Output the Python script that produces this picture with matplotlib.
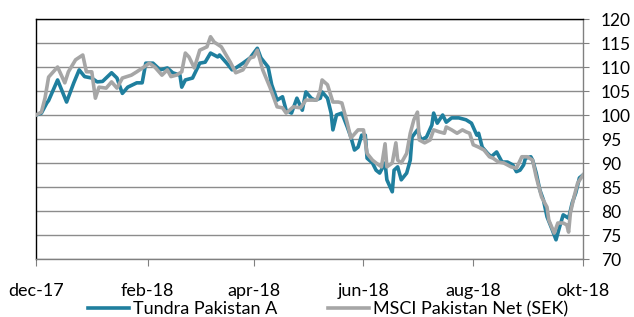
import pandas as pd
import matplotlib
matplotlib.use("Agg")
import matplotlib.pyplot as plt

plt.rcParams["font.family"] = ["Lato", "DejaVu Sans"]

# ---- Data (index, start = 100) ----
tundra_dates = [
    "2017-12-01", "2017-12-04", "2017-12-07", "2017-12-08", "2017-12-13", "2017-12-18",
    "2017-12-22", "2017-12-25", "2017-12-28", "2018-01-01", "2018-01-04", "2018-01-07",
    "2018-01-12", "2018-01-15", "2018-01-18", "2018-01-21", "2018-01-26", "2018-01-29",
    "2018-01-31", "2018-02-04", "2018-02-08", "2018-02-12", "2018-02-15", "2018-02-19",
    "2018-02-20", "2018-02-22", "2018-02-26", "2018-03-02", "2018-03-05", "2018-03-08",
    "2018-03-12", "2018-03-13", "2018-03-17", "2018-03-20", "2018-03-22", "2018-03-26",
    "2018-03-30", "2018-04-03", "2018-04-05", "2018-04-09", "2018-04-11", "2018-04-14",
    "2018-04-17", "2018-04-19", "2018-04-22", "2018-04-25", "2018-04-28", "2018-04-30",
    "2018-05-03", "2018-05-05", "2018-05-08", "2018-05-09", "2018-05-12", "2018-05-14",
    "2018-05-15", "2018-05-17", "2018-05-20", "2018-05-23", "2018-05-25", "2018-05-27",
    "2018-05-29", "2018-05-31", "2018-06-02", "2018-06-03", "2018-06-06", "2018-06-08",
    "2018-06-10", "2018-06-13", "2018-06-14", "2018-06-17", "2018-06-18", "2018-06-20",
    "2018-06-22", "2018-06-25", "2018-06-27", "2018-06-28", "2018-07-01", "2018-07-03",
    "2018-07-06", "2018-07-09", "2018-07-10", "2018-07-12", "2018-07-15", "2018-07-17",
    "2018-07-20", "2018-07-24", "2018-07-28", "2018-07-31", "2018-08-03", "2018-08-04",
    "2018-08-06", "2018-08-09", "2018-08-11", "2018-08-14", "2018-08-17", "2018-08-20",
    "2018-08-23", "2018-08-25", "2018-08-27", "2018-08-29", "2018-08-30", "2018-09-02",
    "2018-09-03", "2018-09-05", "2018-09-07", "2018-09-09", "2018-09-11", "2018-09-14",
    "2018-09-16", "2018-09-18", "2018-09-20", "2018-09-23", "2018-09-25", "2018-09-27",
    "2018-09-29", "2018-10-01",
]
tundra_values = [
    100.0, 100.4, 102.5, 103.0, 107.3, 102.7,
    106.7, 109.4, 108.0, 107.7, 106.9, 107.0,
    108.8, 107.7, 104.5, 105.8, 106.7, 106.7,
    110.8, 110.8, 109.4, 109.8, 108.8, 108.3,
    105.8, 107.3, 107.7, 110.8, 111.0, 112.9,
    112.1, 112.5, 110.8, 109.4, 109.8, 110.8,
    111.9, 113.9, 111.9, 110.0, 106.3, 103.1,
    103.8, 101.0, 100.4, 103.5, 101.0, 104.8,
    103.5, 103.1, 103.5, 104.8, 103.5, 100.4,
    96.9, 100.0, 100.4, 97.5, 95.4, 92.7,
    93.3, 95.8, 95.8, 91.0, 90.0, 88.5,
    87.9, 90.0, 86.5, 84.0, 88.5, 89.2,
    86.5, 87.9, 90.6, 95.4, 96.9, 94.8,
    95.4, 97.9, 100.4, 98.3, 100.0, 98.5,
    99.4, 99.4, 99.0, 98.3, 95.8, 96.2,
    93.3, 92.0, 91.3, 92.3, 90.2, 90.2,
    89.6, 88.2, 88.5, 89.6, 91.0, 91.3,
    90.6, 87.9, 84.4, 82.3, 78.8, 76.0,
    74.0, 76.7, 79.2, 78.5, 81.7, 83.8,
    86.9, 87.5,
]

msci_dates = [
    "2017-12-01", "2017-12-04", "2017-12-06", "2017-12-08", "2017-12-13", "2017-12-17",
    "2017-12-19", "2017-12-23", "2017-12-27", "2017-12-29", "2018-01-01", "2018-01-03",
    "2018-01-05", "2018-01-09", "2018-01-12", "2018-01-15", "2018-01-18", "2018-01-23",
    "2018-01-26", "2018-01-30", "2018-02-02", "2018-02-05", "2018-02-09", "2018-02-12",
    "2018-02-14", "2018-02-17", "2018-02-20", "2018-02-22", "2018-02-24", "2018-02-27",
    "2018-03-02", "2018-03-06", "2018-03-08", "2018-03-10", "2018-03-14", "2018-03-19",
    "2018-03-22", "2018-03-26", "2018-03-30", "2018-04-01", "2018-04-03", "2018-04-06",
    "2018-04-10", "2018-04-14", "2018-04-17", "2018-04-19", "2018-04-23", "2018-04-27",
    "2018-04-30", "2018-05-03", "2018-05-06", "2018-05-08", "2018-05-09", "2018-05-12",
    "2018-05-15", "2018-05-18", "2018-05-20", "2018-05-23", "2018-05-25", "2018-05-29",
    "2018-06-01", "2018-06-03", "2018-06-06", "2018-06-08", "2018-06-11", "2018-06-13",
    "2018-06-14", "2018-06-17", "2018-06-19", "2018-06-20", "2018-06-22", "2018-06-25",
    "2018-06-27", "2018-06-29", "2018-07-01", "2018-07-02", "2018-07-05", "2018-07-08",
    "2018-07-10", "2018-07-13", "2018-07-16", "2018-07-17", "2018-07-20", "2018-07-23",
    "2018-07-26", "2018-07-28", "2018-07-30", "2018-08-01", "2018-08-04", "2018-08-07",
    "2018-08-10", "2018-08-12", "2018-08-15", "2018-08-18", "2018-08-22", "2018-08-25",
    "2018-08-28", "2018-08-31", "2018-09-03", "2018-09-05", "2018-09-08", "2018-09-11",
    "2018-09-12", "2018-09-15", "2018-09-17", "2018-09-20", "2018-09-22", "2018-09-23",
    "2018-09-24", "2018-09-26", "2018-09-28", "2018-10-01",
]
msci_values = [
    100.0, 100.6, 103.5, 107.9, 110.0, 106.7,
    109.0, 111.5, 112.5, 109.0, 109.0, 103.5,
    105.8, 105.6, 106.9, 105.6, 107.7, 108.3,
    109.0, 110.0, 110.8, 110.0, 108.3, 109.4,
    108.0, 108.3, 109.0, 112.9, 112.1, 109.8,
    113.5, 114.2, 116.3, 115.2, 114.2, 111.0,
    108.8, 109.4, 111.9, 112.1, 113.5, 109.4,
    105.8, 101.7, 101.5, 100.4, 101.7, 101.5,
    103.1, 103.1, 103.1, 105.2, 107.3, 106.3,
    102.7, 102.7, 102.5, 98.3, 95.2, 96.9,
    96.9, 92.0, 90.6, 90.0, 89.2, 94.0,
    89.2, 90.0, 94.2, 90.6, 90.0, 92.0,
    96.2, 99.0, 100.6, 94.8, 94.2, 94.8,
    96.9, 96.5, 96.2, 97.5, 96.9, 96.2,
    96.9, 96.5, 96.2, 93.8, 93.3, 92.7,
    91.3, 91.0, 90.2, 90.0, 89.2, 88.9,
    91.3, 91.3, 90.6, 87.1, 82.9, 80.8,
    78.1, 75.4, 77.5, 77.5, 77.1, 75.6,
    79.6, 82.9, 85.8, 87.5,
]

tick_dates = ["2017-12-01", "2018-02-01", "2018-04-01", "2018-06-01", "2018-08-01", "2018-10-01"]
tick_labels = ["dec-17", "feb-18", "apr-18", "jun-18", "aug-18", "okt-18"]

TEAL = "#1F7F9E"
GREY = "#A6A6A6"

fig = plt.figure(figsize=(6.34, 3.17), dpi=100)
ax = fig.add_axes([36 / 634, 1 - 259 / 317, (583 - 36) / 634, (259 - 19) / 317])

ax.plot(pd.to_datetime(tundra_dates), tundra_values, color=TEAL, lw=2.6,
        solid_joinstyle="round", label="Tundra Pakistan A", zorder=3)
ax.plot(pd.to_datetime(msci_dates), msci_values, color=GREY, lw=2.6,
        solid_joinstyle="round", label="MSCI Pakistan Net (SEK)", zorder=4)

ax.set_xlim(pd.Timestamp("2017-12-01"), pd.Timestamp("2018-10-01"))
ax.set_ylim(70, 120)
ax.set_yticks(range(70, 121, 5))
ax.grid(axis="y", color="#8C8C8C", lw=1.0)
ax.set_axisbelow(True)

ax.yaxis.tick_right()
ax.tick_params(axis="y", direction="out", length=4, color="#808080", labelsize=12.5, pad=9)
ax.set_xticks(pd.to_datetime(tick_dates))
ax.set_xticklabels(tick_labels)
ax.tick_params(axis="x", direction="out", length=5, color="#808080", labelsize=13, pad=12)

ax.spines["left"].set_color("black")
ax.spines["top"].set_color("black")
ax.spines["right"].set_color("#808080")
ax.spines["bottom"].set_color("#808080")
for s in ax.spines.values():
    s.set_linewidth(1.0)

fig.legend(loc="center", bbox_to_anchor=(0.517, 0.025), ncol=2, frameon=False,
           fontsize=13, handlelength=2.3, handletextpad=0.2, columnspacing=2.8)

fig.savefig("out.png", dpi=100)
